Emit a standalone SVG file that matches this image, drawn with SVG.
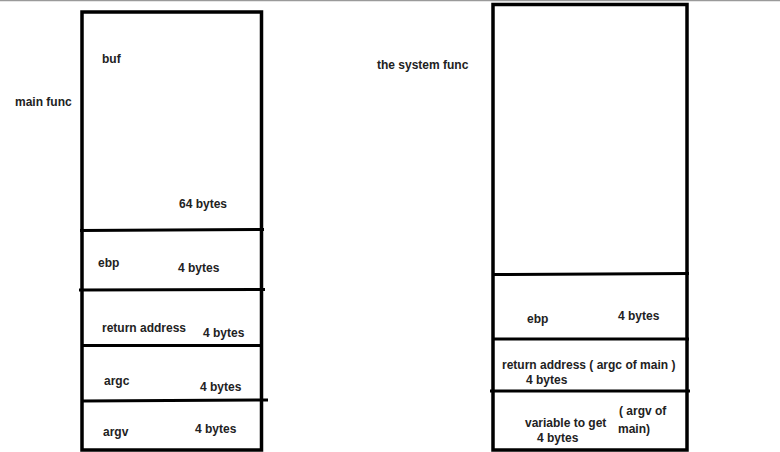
<svg xmlns="http://www.w3.org/2000/svg" width="780" height="452" viewBox="0 0 780 452">
<style>
.t{font-family:"Liberation Sans",Arial,sans-serif;font-weight:bold;font-size:12px;fill:#222}
.box{fill:#fff;stroke:#000;stroke-width:3.5}
.div{stroke:#000;stroke-width:3;fill:none}
</style>
<rect width="780" height="452" fill="#fff"/>
<line x1="0" y1="0.5" x2="780" y2="0.5" stroke="#9a9a9a" stroke-width="1.5"/>
<g id="label-main"><text class="t" x="15" y="106">main func</text></g>
<g id="label-system"><text class="t" x="377" y="69">the system func</text></g>
<g id="main-stack">
<rect class="box" x="82" y="12" width="179.5" height="438"/>
</g>
<g id="system-stack">
<rect class="box" x="493" y="4.5" width="194" height="445.5"/>
</g>
<g id="connectors">
<line class="div" x1="80" y1="230.5" x2="264" y2="229.5"/>
<line class="div" x1="79" y1="290" x2="265" y2="289.5"/>
<line class="div" x1="82" y1="345.5" x2="262" y2="345.5"/>
<line class="div" x1="82" y1="401" x2="268" y2="400"/>
<line class="div" x1="493" y1="274.5" x2="689" y2="273.5"/>
<line class="div" x1="493" y1="339" x2="689" y2="339"/>
<line class="div" x1="490" y1="391" x2="690" y2="391"/>
</g>
<g id="main-buf"><text class="t" x="102" y="63">buf</text><text class="t" x="179" y="208">64 bytes</text></g>
<g id="main-ebp"><text class="t" x="98" y="267">ebp</text><text class="t" x="178" y="272">4 bytes</text></g>
<g id="main-ret"><text class="t" x="102" y="332">return address</text><text class="t" x="203" y="337">4 bytes</text></g>
<g id="main-argc"><text class="t" x="104" y="385">argc</text><text class="t" x="200" y="391">4 bytes</text></g>
<g id="main-argv"><text class="t" x="103" y="436">argv</text><text class="t" x="195" y="433">4 bytes</text></g>
<g id="sys-ebp"><text class="t" x="527" y="323">ebp</text><text class="t" x="618" y="320">4 bytes</text></g>
<g id="sys-ret"><text class="t" x="502" y="369">return address ( argc of main )</text><text class="t" x="526" y="384">4 bytes</text></g>
<g id="sys-var"><text class="t" x="619" y="415">( argv of</text><text class="t" x="618" y="433">main)</text><text class="t" x="525" y="427">variable to get</text><text class="t" x="537" y="442">4 bytes</text></g>
</svg>
